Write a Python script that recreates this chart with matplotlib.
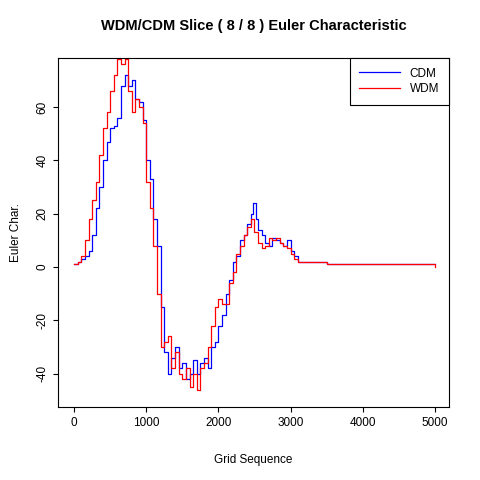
import matplotlib
matplotlib.use("Agg")
import matplotlib.pyplot as plt

plt.rcParams['font.family'] = ['Liberation Sans', 'DejaVu Sans']

# grid positions of readings
cdm_x = [0, 50, 100, 150, 200, 250, 300, 350, 400, 450, 500, 550, 600, 650, 700, 750, 800, 850,
         900, 950, 1000, 1050, 1100, 1150, 1200, 1250, 1300, 1350, 1400, 1450, 1500, 1550, 1600,
         1650, 1700, 1750, 1800, 1850, 1900, 1950, 2000, 2050, 2100, 2150, 2200, 2250, 2300, 2350,
         2400, 2450, 2480, 2520, 2550, 2600, 2650, 2700, 2750, 2800, 2850, 2900, 2950, 3000, 3050,
         3100, 3200, 3500, 4000, 5000]
cdm_y = [1, 2, 3, 4, 6, 12, 22, 30, 40, 47, 52, 53, 56, 68, 72, 68, 70, 63,
         62, 55, 40, 33, 18, 8, -15, -32, -40, -34, -30, -38, -36, -42, -40,
         -35, -40, -36, -34, -38, -30, -28, -22, -18, -10, -5, 2, 4, 10, 12,
         16, 20, 24, 18, 14, 12, 9, 8, 11, 10, 9, 8, 10, 6, 4,
         2, 2, 1, 1, 1]

wdm_x = [0, 50, 100, 150, 200, 250, 300, 350, 400, 450, 500, 550, 600, 650, 700, 750, 800, 850,
         900, 950, 1000, 1050, 1100, 1150, 1200, 1250, 1300, 1350, 1400, 1450, 1500, 1550, 1600,
         1650, 1700, 1750, 1800, 1850, 1900, 1950, 2000, 2050, 2100, 2150, 2200, 2250, 2300, 2350,
         2400, 2450, 2500, 2550, 2600, 2650, 2700, 2750, 2800, 2850, 2900, 2950, 3000, 3050,
         3100, 3200, 3500, 4000, 4990, 5000]
wdm_y = [1, 2, 4, 10, 18, 25, 32, 42, 52, 58, 66, 72, 78, 76, 78, 66, 58, 63,
         60, 54, 32, 22, 8, -10, -30, -28, -26, -38, -32, -40, -42, -38, -45,
         -40, -46, -38, -36, -30, -22, -15, -12, -14, -14, -6, -2, 5, 8, 12,
         15, 18, 13, 9, 7, 8, 11, 10, 11, 9, 8, 7, 5, 3,
         2, 2, 1, 1, 1, 0]

fig = plt.figure(figsize=(4.8, 4.8), dpi=100)
ax = fig.add_axes([0.121, 0.152, 0.814, 0.727])
ax.plot(cdm_x, cdm_y, color='blue', lw=0.9, drawstyle='steps-post', label='CDM')
ax.plot(wdm_x, wdm_y, color='red', lw=0.9, drawstyle='steps-post', label='WDM')
ax.set_xlim(-222, 5194)
ax.set_ylim(-52.5, 78.4)
ax.set_xticks([0, 1000, 2000, 3000, 4000, 5000])
ax.set_yticks([-40, -20, 0, 20, 40, 60])
ax.set_yticklabels(['-40', '-20', '0', '20', '40', '60'], rotation=90, va='center')
ax.tick_params(labelsize=8.5)
ax.set_xlabel('Grid Sequence', fontsize=8.5, labelpad=18)
ax.set_ylabel('Euler Char.', fontsize=8.5, labelpad=10)
ax.set_title('WDM/CDM Slice ( 8 / 8 ) Euler Characteristic', fontsize=10.5,
             fontweight='bold', pad=20)
leg = ax.legend(loc='upper right', fontsize=8.5, fancybox=False, framealpha=1,
                edgecolor='black', borderaxespad=0, handlelength=3.5,
                borderpad=0.8, labelspacing=0.3)
leg.get_frame().set_linewidth(0.8)
fig.savefig('out.png')
